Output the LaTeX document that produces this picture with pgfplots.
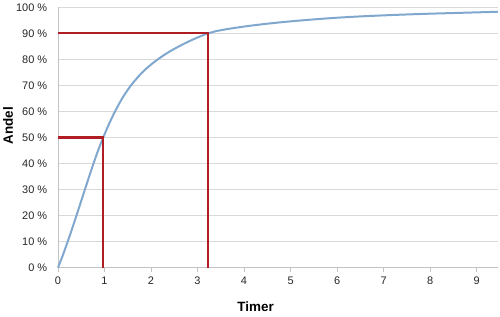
\documentclass[border=0pt]{standalone}
\usepackage{pgfplots}
\pgfplotsset{compat=1.18}
\usepackage{fontspec}
\setmainfont{Liberation Sans}
\definecolor{curveblue}{RGB}{128,167,206}
\definecolor{darkred}{RGB}{176,30,36}
\definecolor{gridgray}{RGB}{217,217,217}
\definecolor{axisgray}{RGB}{195,195,195}
\begin{document}
\begin{tikzpicture}
\useasboundingbox (-58bp,-49.3bp) rectangle (442bp,267.7bp);
\begin{axis}[
  at={(0,0)}, anchor=origin,
  scale only axis, width=440bp, height=260.4bp,
  xmin=0, xmax=9.46, ymin=0, ymax=100,
  axis x line*=bottom, axis y line*=left,
  axis line style={axisgray, line width=0.9pt},
  xtick={0,1,...,9}, ytick={0,10,...,100},
  yticklabels={0 \%,10 \%,20 \%,30 \%,40 \%,50 \%,60 \%,70 \%,80 \%,90 \%,100 \%},
  ymajorgrids, grid style={gridgray, line width=0.9pt},
  x tick style={axisgray, line width=0.7pt}, tick align=outside,
  xtick style={/pgfplots/major tick length=4bp},
  ytick style={draw=none},
  tick label style={font=\fontsize{11}{13}\selectfont, text=black!85},
  /pgf/number format/assume math mode=true,
  yticklabel style={xshift=-3bp},
  xticklabel style={yshift=-1bp},
  xlabel={Timer}, ylabel={Andel},
  label style={font=\bfseries\fontsize{13.5}{16}\selectfont},
  xlabel style={at={(rel axis cs:0.449,0)}, anchor=center, yshift=-39.3bp},
  ylabel style={at={([xshift=-50bp]rel axis cs:0,0.546)}, anchor=center},
  clip=false,
]
\addplot[curveblue, line width=2pt, smooth, tension=0.6] coordinates {
(0,0) (0.1,4.6) (0.2,9.6) (0.3,14.8) (0.4,20.2) (0.5,25.7) (0.6,31.2)
(0.7,36.6) (0.8,41.9) (0.9,46.8) (1.0,51.2) (1.1,55.3) (1.2,59.1)
(1.3,62.5) (1.4,65.6) (1.5,68.3) (1.6,70.7) (1.8,74.8) (2.0,78.0)
(2.2,80.7) (2.4,83.0) (2.6,85.0) (2.8,86.8) (3.0,88.4) (3.23,90.0)
(3.5,91.2) (4.0,92.6) (4.5,93.7) (5.0,94.6) (5.5,95.35) (6.0,96.0)
(6.5,96.5) (7.0,96.9) (7.5,97.25) (8.0,97.55) (8.5,97.8) (9.0,98.05) (9.46,98.3)
};
\addplot[darkred, line width=2.1pt] coordinates {(0,50) (0.975,50) (0.975,0)};
\addplot[darkred, line width=2.1pt] coordinates {(0,90) (3.23,90) (3.23,0)};
\end{axis}
\end{tikzpicture}
\end{document}
